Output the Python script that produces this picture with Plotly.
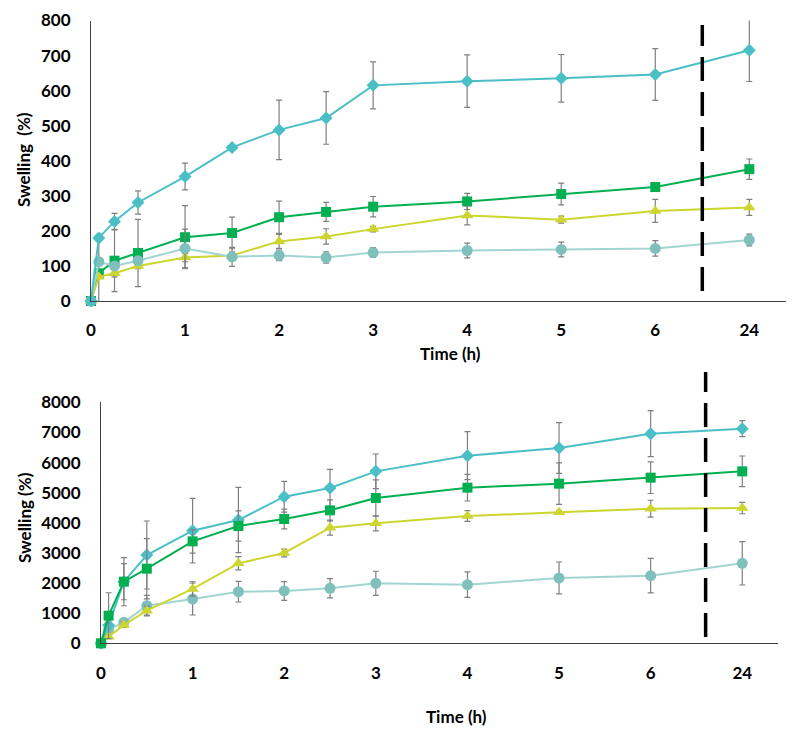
import plotly.graph_objects as go

# ---------------- data ----------------
times = [0, 0.083, 0.25, 0.5, 1, 1.5, 2, 2.5, 3, 4, 5, 6, 24]
tick_vals = [0, 1, 2, 3, 4, 5, 6, 24]
tick_labels = ["0", "1", "2", "3", "4", "5", "6", "24"]

# Top panel
top_diamond = [0, 180, 227, 281, 355, 438, 488, 522, 615, 627, 635, 646, 715]
top_diamond_err = [0, 10, 23, 33, 38, 5, 85, 75, 67, 75, 68, 74, 89]
top_square = [0, 79, 115, 137, 182, 194, 239, 254, 269, 284, 305, 325, 376]
top_square_err = [0, 92, 88, 96, 90, 45, 46, 27, 29, 23, 31, 11, 29]
top_triangle = [0, 69, 79, 100, 124, 130, 170, 184, 205, 244, 232, 257, 267]
top_triangle_err = [0, 5, 10, 8, 12, 10, 20, 22, 8, 27, 10, 33, 23]
top_circle = [0, 112, 100, 115, 150, 126, 130, 124, 138, 144, 147, 150, 174]
top_circle_err = [0, 10, 8, 10, 55, 27, 15, 16, 14, 21, 21, 22, 17]

# Bottom panel
bot_diamond = [0, 600, 2046, 2931, 3739, 4093, 4867, 5155, 5708, 6228, 6482, 6958, 7124]
bot_diamond_err = [0, 100, 600, 1128, 1073, 1084, 510, 620, 575, 797, 840, 763, 265]
bot_square = [0, 918, 2046, 2478, 3385, 3894, 4126, 4414, 4823, 5166, 5299, 5498, 5708]
bot_square_err = [0, 760, 800, 1000, 390, 500, 330, 350, 600, 442, 690, 525, 509]
bot_triangle = [0, 221, 608, 1084, 1803, 2655, 2998, 3838, 3982, 4226, 4347, 4469, 4491]
bot_triangle_err = [0, 60, 80, 150, 240, 220, 130, 250, 250, 180, 60, 280, 190]
bot_circle = [0, 465, 697, 1250, 1471, 1714, 1737, 1825, 1991, 1947, 2168, 2246, 2655]
bot_circle_err = [0, 80, 100, 340, 531, 343, 310, 320, 400, 425, 530, 575, 720]


def pos(t):
    # broken time axis: 24 h drawn one step after 6 h
    return t if t <= 6 else 7


xpos = [pos(t) for t in times]
tick_pos = [pos(t) for t in tick_vals]

C_DIAMOND = "#4BBFC6"
C_SQUARE = "#00B050"
C_TRIANGLE = "#CDD52F"
C_CIRCLE = "#7FBFBC"
C_CIRCLE_LINE = "#A2D5D2"
ERR = "#7F7F7F"
FONT = "Lato"

W, H, OFF = 800, 740, 8  # page body margin offsets the figure by 8px


def px(x):
    return (x - OFF) / W


def py(y):
    return 1 - (y - OFF) / H


fig = go.Figure()


def add_series(y, err, color, symbol, size, xa, ya, line_color=None):
    fig.add_trace(go.Scatter(
        x=xpos, y=y, mode="lines+markers",
        line=dict(color=line_color or color, width=2),
        marker=dict(color=color, symbol=symbol, size=size, line=dict(width=0)),
        error_y=dict(type="data", array=err, visible=True, color=ERR,
                     thickness=1.2, width=3),
        xaxis=xa, yaxis=ya, showlegend=False, cliponaxis=False,
    ))


for (y, e, c, s, sz, lc) in [
    (top_square, top_square_err, C_SQUARE, "square", 10, None),
    (top_triangle, top_triangle_err, C_TRIANGLE, "triangle-up", 11, None),
    (top_circle, top_circle_err, C_CIRCLE, "circle", 11, C_CIRCLE_LINE),
    (top_diamond, top_diamond_err, C_DIAMOND, "diamond", 10, None),
]:
    add_series(y, e, c, s, sz, "x", "y", lc)

for (y, e, c, s, sz, lc) in [
    (bot_circle, bot_circle_err, C_CIRCLE, "circle", 11, C_CIRCLE_LINE),
    (bot_triangle, bot_triangle_err, C_TRIANGLE, "triangle-up", 11, None),
    (bot_diamond, bot_diamond_err, C_DIAMOND, "diamond", 10, None),
    (bot_square, bot_square_err, C_SQUARE, "square", 10, None),
]:
    add_series(y, e, c, s, sz, "x2", "y2", lc)

tickfont = dict(family=FONT, size=17, color="#000000", weight="bold")
xcommon = dict(tickvals=tick_pos, ticktext=tick_labels, range=[0, 7.39],
               showgrid=False, zeroline=False, showline=True,
               linecolor="#404040", linewidth=1, ticks="outside",
               ticklen=14, tickcolor="rgba(0,0,0,0)", tickfont=tickfont,
               automargin=False)
ycommon = dict(showgrid=False, zeroline=False, showline=True,
               linecolor="#404040", linewidth=1, ticks="outside",
               ticklen=16, tickcolor="rgba(0,0,0,0)", tickfont=tickfont,
               automargin=False)

fig.update_layout(
    width=W, height=H,
    margin=dict(l=0, r=0, t=0, b=0, autoexpand=False),
    paper_bgcolor="white", plot_bgcolor="white",
    xaxis=dict(domain=[px(91), px(786)], anchor="y", **xcommon),
    yaxis=dict(domain=[py(301), py(20.5)], anchor="x",
               range=[0, 800], dtick=100, **ycommon),
    xaxis2=dict(domain=[px(101), px(778)], anchor="y2", **xcommon),
    yaxis2=dict(domain=[py(643.3), py(402.3)], anchor="x2",
                range=[0, 8000], dtick=1000, **ycommon),
)

# dashed axis-break markers
fig.add_shape(type="line", xref="x", yref="paper", x0=6.5, x1=6.5,
              y0=py(291), y1=py(25),
              line=dict(color="black", width=3.5, dash="24px,11px"))
fig.add_shape(type="line", xref="x2", yref="paper", x0=6.6, x1=6.6,
              y0=py(637), y1=py(372),
              line=dict(color="black", width=3.5, dash="24px,11px"))

titlefont = dict(family=FONT, size=17, color="#000000", weight="bold")
for text, x, y, ang in [
    ("Swelling  (%)", 23, 160, -90),
    ("Time (h)", 450, 353, 0),
    ("Swelling (%)", 25, 518, -90),
    ("Time (h)", 456, 716, 0),
]:
    fig.add_annotation(text=text, x=px(x), y=py(y), xref="paper", yref="paper",
                       xanchor="center", yanchor="middle", textangle=ang,
                       showarrow=False, font=titlefont)

fig.write_html("out.html")
